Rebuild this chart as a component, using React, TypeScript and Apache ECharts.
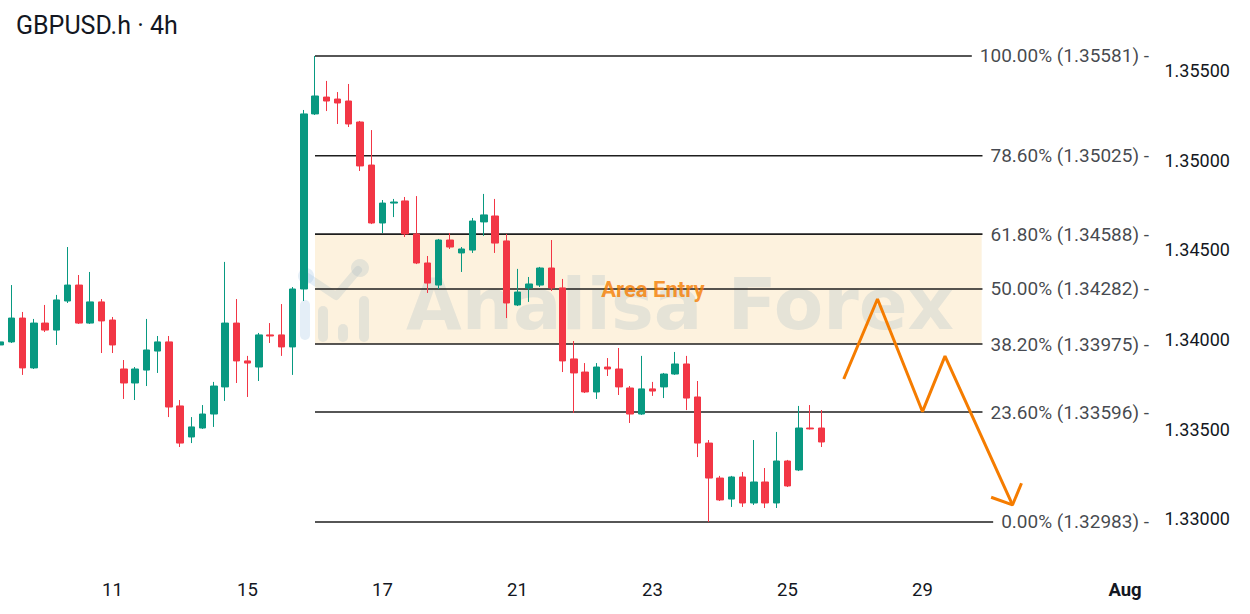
import React, { useEffect, useRef } from "react";
import * as echarts from "echarts";

// ---- data ----
const tradingDays = ["Jul 9", "Jul 10", "Jul 11", "Jul 14", "Jul 15", "Jul 16", "Jul 17", "Jul 18", "Jul 21", "Jul 22", "Jul 23", "Jul 24", "Jul 25", "Jul 28", "Jul 29", "Jul 30", "Jul 31", "Aug 1"];
const barHours = ["00:00", "04:00", "08:00", "12:00", "16:00", "20:00"];
const tickDays = ["Jul 11", "Jul 15", "Jul 17", "Jul 21", "Jul 23", "Jul 25", "Jul 29", "Aug 1"];
const tickLabels = ["11", "15", "17", "21", "23", "25", "29", "Aug"];

// [open, high, low, close] per 4h bar
const candles: number[][] = [
  [1.3397, 1.33998, 1.33964, 1.33987],
  [1.33987, 1.34304, 1.33981, 1.3412],
  [1.3412, 1.34154, 1.33803, 1.33842],
  [1.33842, 1.34115, 1.33836, 1.34092],
  [1.34092, 1.34193, 1.34042, 1.34053],
  [1.34053, 1.34249, 1.3397, 1.34221],
  [1.34215, 1.34516, 1.34204, 1.34304],
  [1.34304, 1.3436, 1.34087, 1.34092],
  [1.34092, 1.34377, 1.34087, 1.3421],
  [1.3421, 1.34226, 1.33925, 1.34104],
  [1.34109, 1.34126, 1.33925, 1.3397],
  [1.33836, 1.33886, 1.33669, 1.33758],
  [1.33758, 1.33847, 1.33663, 1.33836],
  [1.3383, 1.34115, 1.33741, 1.33942],
  [1.33936, 1.3402, 1.33814, 1.33987],
  [1.33987, 1.3402, 1.33568, 1.33624],
  [1.3363, 1.33663, 1.33401, 1.33423],
  [1.33457, 1.33568, 1.33423, 1.33513],
  [1.33507, 1.33635, 1.33502, 1.33585],
  [1.33585, 1.33764, 1.33513, 1.33741],
  [1.33736, 1.34433, 1.33658, 1.34092],
  [1.34092, 1.34226, 1.33758, 1.33881],
  [1.33881, 1.33909, 1.3368, 1.33869],
  [1.33847, 1.34037, 1.33769, 1.34026],
  [1.34026, 1.34092, 1.33981, 1.3402],
  [1.34026, 1.34198, 1.33909, 1.33959],
  [1.33959, 1.34293, 1.33803, 1.34282],
  [1.34282, 1.3528, 1.34215, 1.35258],
  [1.35258, 1.35581, 1.35252, 1.35358],
  [1.35352, 1.35442, 1.35274, 1.3533],
  [1.35341, 1.3538, 1.35202, 1.35319],
  [1.3533, 1.35425, 1.35185, 1.35202],
  [1.35213, 1.35219, 1.3494, 1.34968],
  [1.34973, 1.35168, 1.34644, 1.3465],
  [1.3465, 1.34778, 1.34594, 1.34761],
  [1.34761, 1.34784, 1.34683, 1.34767],
  [1.34773, 1.34795, 1.34572, 1.34589],
  [1.34589, 1.348, 1.34421, 1.34427],
  [1.34427, 1.34466, 1.3426, 1.34315],
  [1.34304, 1.34561, 1.34282, 1.34555],
  [1.34555, 1.34594, 1.34505, 1.34516],
  [1.34483, 1.34516, 1.34377, 1.34505],
  [1.34499, 1.34678, 1.34483, 1.34661],
  [1.34656, 1.34812, 1.34578, 1.34695],
  [1.34689, 1.34784, 1.34483, 1.34538],
  [1.3455, 1.34589, 1.3412, 1.34204],
  [1.34193, 1.34394, 1.34187, 1.34265],
  [1.34288, 1.34349, 1.3421, 1.3431],
  [1.34304, 1.34405, 1.34293, 1.34399],
  [1.34399, 1.34555, 1.34271, 1.34288],
  [1.34288, 1.34338, 1.33819, 1.33881],
  [1.33892, 1.33992, 1.33591, 1.33814],
  [1.33819, 1.33869, 1.33702, 1.33708],
  [1.33708, 1.33869, 1.33669, 1.33847],
  [1.33847, 1.33897, 1.33797, 1.33836],
  [1.33836, 1.33953, 1.33691, 1.33736],
  [1.3373, 1.33741, 1.33535, 1.33585],
  [1.33585, 1.33909, 1.3358, 1.33725],
  [1.33725, 1.33764, 1.33686, 1.33713],
  [1.33736, 1.33814, 1.33674, 1.33808],
  [1.33808, 1.33931, 1.33803, 1.33864],
  [1.33864, 1.33909, 1.33607, 1.33674],
  [1.3368, 1.33769, 1.33345, 1.33423],
  [1.33423, 1.3344, 1.32983, 1.33228],
  [1.33228, 1.3324, 1.331, 1.33106],
  [1.33111, 1.3324, 1.33067, 1.33234],
  [1.33234, 1.33262, 1.33067, 1.33089],
  [1.33089, 1.3344, 1.33078, 1.33206],
  [1.33206, 1.33284, 1.33061, 1.33089],
  [1.33089, 1.33485, 1.33061, 1.33323],
  [1.33323, 1.33329, 1.33178, 1.33184],
  [1.33273, 1.3363, 1.33267, 1.33507],
  [1.33507, 1.33635, 1.33499, 1.33502],
  [1.33507, 1.33607, 1.33401, 1.33429],
];

const fibPct = [100, 78.6, 61.8, 50, 38.2, 23.6, 0];
const fibPrice = [1.35581, 1.35025, 1.34588, 1.34282, 1.33975, 1.33596, 1.32983];
const fibStartIdx = 28;
const zoneEndIdx = 87.26;
const zoneTop = 1.34588;
const zoneBottom = 1.33975;

const zigX = [75, 78, 82, 84, 90];
const zigY = [1.3378, 1.34226, 1.33598, 1.33908, 1.33078];
const arrowX = [88.1, 90, 90.8];
const arrowY = [1.33121, 1.33078, 1.33199];

const entryLabel = { text: "Area Entry", x: 53.4, y: 1.3428 };

const yTicksShown = [1.33, 1.335, 1.34, 1.345, 1.35, 1.355];

// ---- derived ----
const allCats: string[] = [];
tradingDays.forEach((d) => barHours.forEach((h) => allCats.push(`${d} ${h}`)));
const categories = allCats.slice(2, 2 + 103);
const lastIdx = categories.length - 1;
const tickCats = tickDays.map((d) => `${d} 00:00`);
const fibText = fibPct.map((pct, i) => `${pct.toFixed(2)}% (${fibPrice[i].toFixed(5)}) -`);

const ORANGE = "#F57C00";
const TEXT = "#131722";
const WM = "rgba(150,190,225,0.26)";
const FIB_FONT = 19;
const LABEL_GAP = 9;
const LABEL_SHIFT = 2;

export default function App() {
  const ref = useRef<HTMLDivElement>(null);
  useEffect(() => {
    if (!ref.current) return;
    const chart = echarts.init(ref.current, null, { renderer: "svg" });

    const fibLineSeries = fibPrice.map((p, i) => ({
      id: `fib${i}`,
      type: "line",
      xAxisIndex: 1,
      z: 2,
      silent: true,
      symbol: "none",
      lineStyle: { color: "#1e1e1e", width: 1.6 },
      data: [
        [fibStartIdx, p],
        [lastIdx, p],
      ],
    }));

    const option: any = {
      animation: false,
      backgroundColor: "#ffffff",
      textStyle: { fontFamily: "Roboto, sans-serif" },
      grid: { left: 0, right: 102.5, top: 25.68, bottom: 50.21, containLabel: false },
      xAxis: [
        {
          type: "category",
          data: categories,
          boundaryGap: false,
          axisLine: { show: false },
          axisTick: { show: false },
          splitLine: { show: false },
          axisLabel: {
            interval: (_i: number, v: string) => tickCats.includes(v),
            formatter: (v: string) => {
              const k = tickCats.indexOf(v);
              if (k < 0) return "";
              const t = tickLabels[k];
              return /\d/.test(t) ? t : `{b|${t}}`;
            },
            color: TEXT,
            fontSize: 18.5,
            fontFamily: "Roboto",
            margin: 17,
            rich: { b: { fontWeight: "bold", fontSize: 18.5, color: TEXT, fontFamily: "Roboto" } },
          },
        },
        { type: "value", min: 0, max: lastIdx, show: false },
      ],
      yAxis: {
        type: "value",
        position: "right",
        min: 1.3275,
        max: 1.3575,
        interval: 0.0025,
        axisLine: { show: false },
        axisTick: { show: false },
        splitLine: { show: false },
        axisLabel: {
          margin: 17,
          fontSize: 18,
          fontFamily: "Roboto",
          color: TEXT,
          formatter: (v: number) =>
            yTicksShown.some((t) => Math.abs(t - v) < 1e-7) ? v.toFixed(5) : "",
        },
      },
      graphic: [
        {
          type: "text",
          x: 16,
          y: 25,
          z: 10,
          style: { text: "GBPUSD.h · 4h", fontSize: 25, fontFamily: "Roboto", fill: TEXT, verticalAlign: "middle", align: "left" },
        },
        {
          type: "group",
          z: 1,
          silent: true,
          children: [
            { type: "rect", z: 1, shape: { x: 300, y: 300, width: 10, height: 40, r: 5 }, style: { fill: WM } },
            { type: "rect", z: 1, shape: { x: 318, y: 306, width: 10, height: 36, r: 5 }, style: { fill: WM } },
            { type: "rect", z: 1, shape: { x: 338, y: 324, width: 10, height: 18, r: 5 }, style: { fill: WM } },
            { type: "rect", z: 1, shape: { x: 359, y: 296, width: 10, height: 46, r: 5 }, style: { fill: WM } },
            { type: "polyline", z: 1, shape: { points: [[306, 276], [336, 296], [358, 270]] }, style: { stroke: WM, lineWidth: 8, fill: null, lineCap: "round", lineJoin: "round" } },
            { type: "circle", z: 1, shape: { cx: 306, cy: 276, r: 8 }, style: { fill: WM } },
            { type: "circle", z: 1, shape: { cx: 360, cy: 268, r: 9 }, style: { fill: WM } },
          ],
        },
        {
          type: "text",
          x: 406,
          y: 304,
          z: 1,
          silent: true,
          style: {
            text: "Analisa Forex",
            fontSize: 72,
            fontWeight: "bold",
            fontFamily: "DejaVu Sans",
            fill: WM,
            verticalAlign: "middle",
            align: "left",
          },
        },
      ],
      series: [
        {
          type: "line",
          xAxisIndex: 1,
          z: 0,
          silent: true,
          symbol: "none",
          data: [[fibStartIdx, zoneTop]],
          markArea: {
            silent: true,
            itemStyle: { color: "rgba(242,156,0,0.13)" },
            data: [[{ coord: [fibStartIdx, zoneTop] }, { coord: [zoneEndIdx, zoneBottom] }]],
          },
        },
        ...fibLineSeries,
        {
          type: "candlestick",
          z: 3,
          barWidth: 7,
          data: candles.map((c) => [c[0], c[3], c[2], c[1]]),
          itemStyle: {
            color: "#089981",
            color0: "#F23645",
            borderColor: "#089981",
            borderColor0: "#F23645",
            borderWidth: 1,
          },
        },
        {
          type: "line",
          xAxisIndex: 1,
          z: 4,
          silent: true,
          symbol: "none",
          lineStyle: { color: ORANGE, width: 3 },
          data: zigX.map((x, i) => [x, zigY[i]]),
        },
        {
          type: "line",
          xAxisIndex: 1,
          z: 4,
          silent: true,
          symbol: "none",
          lineStyle: { color: ORANGE, width: 3 },
          data: arrowX.map((x, i) => [x, arrowY[i]]),
        },
        {
          type: "scatter",
          xAxisIndex: 1,
          z: 10,
          silent: true,
          clip: false,
          symbolSize: 1,
          itemStyle: { color: "rgba(0,0,0,0)" },
          data: fibPrice.map((p, i) => [lastIdx, p, i]),
          label: {
            show: true,
            position: "left",
            distance: -LABEL_SHIFT,
            fontSize: FIB_FONT,
            fontFamily: "Roboto",
            color: TEXT,
            formatter: (prm: any) => fibText[prm.value[2]],
          },
        },
        {
          type: "scatter",
          xAxisIndex: 1,
          z: 5,
          silent: true,
          symbolSize: 1,
          itemStyle: { color: "rgba(0,0,0,0)" },
          data: [[entryLabel.x, entryLabel.y]],
          label: {
            show: true,
            position: "right",
            distance: 0,
            fontSize: 22,
            fontWeight: "bold",
            fontFamily: "Roboto",
            color: ORANGE,
            formatter: () => entryLabel.text,
          },
        },
      ],
    };
    chart.setOption(option);

    // end each fib line a small gap before its label, using the axis scale
    const canvas = document.createElement("canvas");
    const ctx = canvas.getContext("2d");
    if (ctx) {
      ctx.font = `${FIB_FONT}px Roboto`;
      const updates = fibPrice.map((p, i) => {
        const w = ctx.measureText(fibText[i]).width;
        const anchor = chart.convertToPixel({ xAxisIndex: 1, yAxisIndex: 0 } as any, [lastIdx, p]) as number[];
        const endPx = anchor[0] + LABEL_SHIFT + 0.5 - w - LABEL_GAP;
        const endIdx = (chart.convertFromPixel({ xAxisIndex: 1, yAxisIndex: 0 } as any, [endPx, anchor[1]]) as number[])[0];
        return { id: `fib${i}`, data: [[fibStartIdx, p], [endIdx, p]] };
      });
      chart.setOption({ series: updates });
    }
    return () => chart.dispose();
  }, []);

  return (
    <div
      ref={ref}
      style={{ position: "absolute", left: 0, top: 0, width: 1250, height: 614, background: "#fff" }}
    />
  );
}
